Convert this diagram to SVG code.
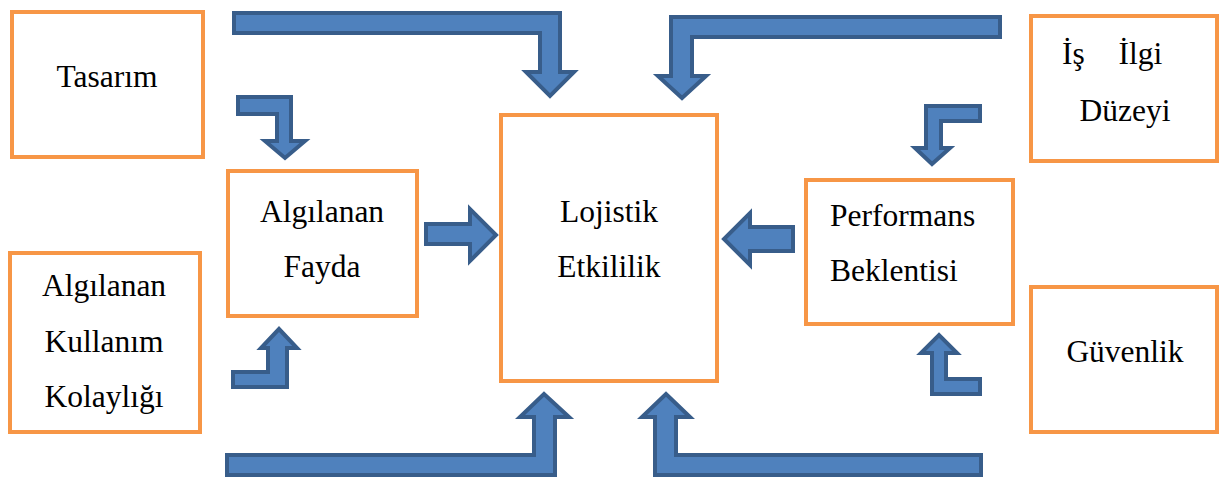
<svg xmlns="http://www.w3.org/2000/svg" width="1222" height="477" viewBox="0 0 1222 477">
<style>
.box{fill:#fff;stroke:#F79646;stroke-width:4}
.arr{fill:#4F81BD;stroke:#385D8A;stroke-width:4;stroke-linejoin:miter}
text{font-family:"Liberation Serif","Times New Roman",serif;font-size:31.5px;fill:#000}
.c{text-anchor:middle}
</style>
<rect width="1222" height="477" fill="#fff"/>
<g id="connectors">
<path class="arr" d="M234,13 L560,13 L560,72 L574,72 L550,96 L526,72 L540,72 L540,33 L234,33 Z"/>
<path class="arr" d="M1000,17 L1000,37 L692,37 L692,76 L706,76 L682,98 L658,76 L671,76 L671,17 Z"/>
<path class="arr" d="M238,97 L291,97 L291,141 L305,141 L285,158 L265,141 L277,141 L277,114 L238,114 Z"/>
<path class="arr" d="M980,106 L980,121 L941,121 L941,148 L950,148 L932,164 L915,148 L926,148 L926,106 Z"/>
<path class="arr" d="M426,224 L470,224 L470,209 L496,235 L470,261 L470,244 L426,244 Z"/>
<path class="arr" d="M793,227 L793,251 L750,251 L750,265 L724,239 L750,213 L750,227 Z"/>
<path class="arr" d="M233,372 L268,372 L268,348 L261,348 L279,329 L297,348 L287,348 L287,387 L233,387 Z"/>
<path class="arr" d="M980,379 L980,394 L932,394 L932,353 L921,353 L939,335 L957,353 L946,353 L946,379 Z"/>
<path class="arr" d="M227,455 L534,455 L534,417 L520,417 L544,394 L569,417 L555,417 L555,475 L227,475 Z"/>
<path class="arr" d="M655,475 L655,417 L642,417 L666,394 L690,417 L676,417 L676,455 L981,455 L981,475 Z"/>
</g>
<g id="tasarim">
<rect class="box" x="12" y="12" width="191" height="145"/>
<text class="c" x="107" y="87">Tasarım</text>
</g>
<g id="kullanim">
<rect class="box" x="10" y="253" width="190" height="179"/>
<text class="c" x="104" y="296">Algılanan</text>
<text class="c" x="104" y="352">Kullanım</text>
<text class="c" x="104" y="407">Kolaylığı</text>
</g>
<g id="fayda">
<rect class="box" x="228" y="171" width="189" height="145"/>
<text class="c" x="322" y="222">Algılanan</text>
<text class="c" x="322" y="277">Fayda</text>
</g>
<g id="lojistik">
<rect class="box" x="501" y="115" width="216" height="266"/>
<text class="c" x="609" y="222">Lojistik</text>
<text class="c" x="609" y="277">Etkililik</text>
</g>
<g id="performans">
<rect class="box" x="806" y="180" width="207" height="144"/>
<text x="830" y="226">Performans</text>
<text x="830" y="281">Beklentisi</text>
</g>
<g id="isilgi">
<rect class="box" x="1031" y="16" width="186" height="145"/>
<text x="1062" y="64" word-spacing="26">İş İlgi</text>
<text class="c" x="1125" y="121">Düzeyi</text>
</g>
<g id="guvenlik">
<rect class="box" x="1031" y="287" width="186" height="145"/>
<text class="c" x="1125" y="362">Güvenlik</text>
</g>
</svg>
